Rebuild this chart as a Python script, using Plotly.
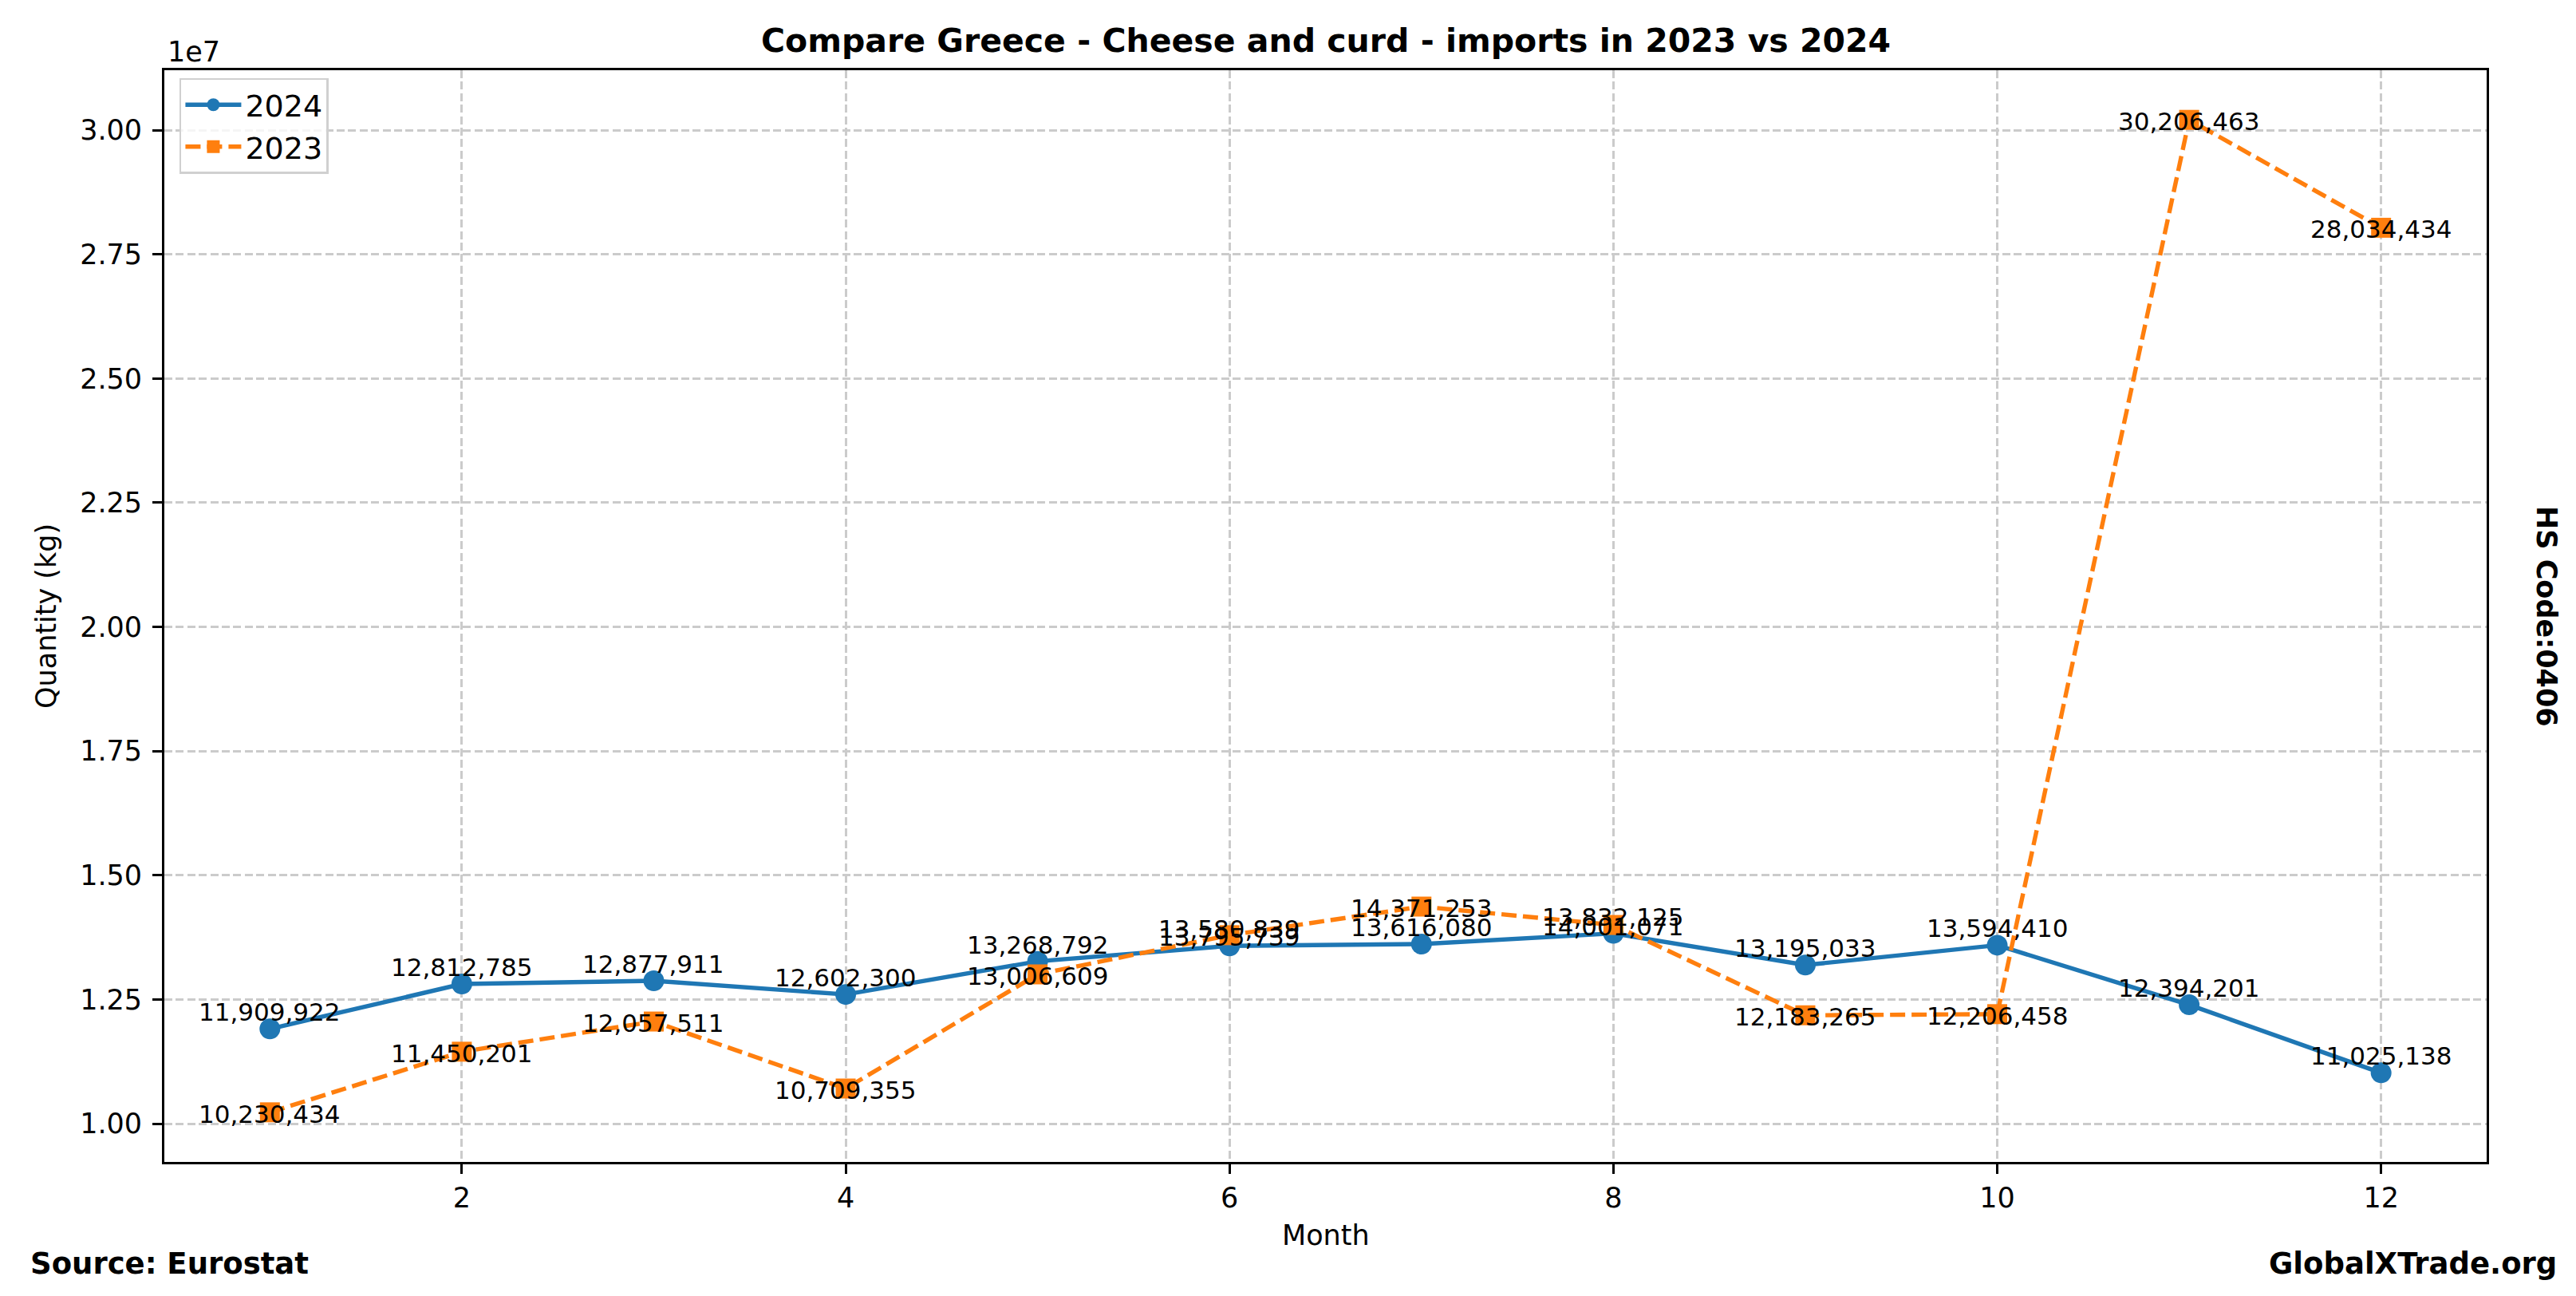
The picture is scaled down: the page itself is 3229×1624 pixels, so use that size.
import plotly.graph_objects as go

months = [1, 2, 3, 4, 5, 6, 7, 8, 9, 10, 11, 12]
values_2024 = [11909922, 12812785, 12877911, 12602300, 13268792, 13580839,
               13616080, 13832125, 13195033, 13594410, 12394201, 11025138]
values_2023 = [10230434, 11450201, 12057511, 10709355, 13006609, 13795739,
               14371253, 14001071, 12183265, 12206458, 30206463, 28034434]
y_tick_vals = [1.00e7, 1.25e7, 1.50e7, 1.75e7, 2.00e7, 2.25e7, 2.50e7, 2.75e7, 3.00e7]
y_tick_text = ["1.00", "1.25", "1.50", "1.75", "2.00", "2.25", "2.50", "2.75", "3.00"]
x_tick_vals = [2, 4, 6, 8, 10, 12]

BLUE = "#1f77b4"
ORANGE = "#ff7f0e"
FONT = "DejaVu Sans"

W, H = 3229, 1624
L, R, T, B = 198, 3229 - 3109, 80, 1624 - 1448

fig = go.Figure()
fig.add_trace(go.Scatter(
    x=months, y=values_2024, name="2024", mode="lines+markers",
    line=dict(color=BLUE, width=5.4),
    marker=dict(symbol="circle", size=26, color=BLUE),
))
fig.add_trace(go.Scatter(
    x=months, y=values_2023, name="2023", mode="lines+markers",
    line=dict(color=ORANGE, width=5.4, dash="19px,8px"),
    marker=dict(symbol="square", size=25, color=ORANGE),
))

ann = []
for m, v in zip(months, values_2024):
    ann.append(dict(x=m, y=v, xref="x", yref="y", text=f"{v:,}", showarrow=False,
                    xanchor="center", yanchor="middle", yshift=21,
                    font=dict(family=FONT, size=31, color="black")))
for m, v in zip(months, values_2023):
    ann.append(dict(x=m, y=v, xref="x", yref="y", text=f"{v:,}", showarrow=False,
                    xanchor="center", yanchor="middle", yshift=-2,
                    font=dict(family=FONT, size=31, color="black")))

ann += [
    dict(x=0.5, y=1, xref="paper", yref="paper", yshift=37, xanchor="center", yanchor="middle",
         text="<b>Compare Greece - Cheese and curd - imports in 2023 vs 2024</b>", showarrow=False,
         font=dict(family=FONT, size=41, color="black")),
    dict(x=0.5, y=0, xref="paper", yref="paper", yshift=-92, xanchor="center", yanchor="middle",
         text="Month", showarrow=False, font=dict(family=FONT, size=35, color="black")),
    dict(x=0, y=0.5, xref="paper", yref="paper", xshift=-148, xanchor="center", yanchor="middle",
         text="Quantity (kg)", textangle=-90, showarrow=False,
         font=dict(family=FONT, size=35, color="black")),
    dict(x=0, y=1, xref="paper", yref="paper", xshift=2, yshift=23, xanchor="left", yanchor="middle",
         text="1e7", showarrow=False, font=dict(family=FONT, size=35, color="black")),
    dict(x=0, y=0, xref="paper", yref="paper", xshift=-170, yshift=-127, xanchor="left", yanchor="middle",
         text="<b>Source: Eurostat</b>", showarrow=False, font=dict(family=FONT, size=37, color="black")),
    dict(x=1, y=0, xref="paper", yref="paper", xshift=90, yshift=-127, xanchor="right", yanchor="middle",
         text="<b>GlobalXTrade.org</b>", showarrow=False, font=dict(family=FONT, size=37, color="black")),
    dict(x=1, y=0.5, xref="paper", yref="paper", xshift=75, xanchor="center", yanchor="middle",
         text="<b>HS Code:0406</b>", textangle=90, showarrow=False,
         font=dict(family=FONT, size=35, color="black")),
]

all_vals = values_2024 + values_2023
ymin, ymax = min(all_vals), max(all_vals)
pad = 0.05 * (ymax - ymin)
xpad = 0.05 * (max(months) - min(months))

axis_common = dict(
    showline=True, linecolor="black", linewidth=2.8, mirror=True,
    ticks="outside", ticklen=12, tickwidth=2.8, tickcolor="black",
    showgrid=True, gridcolor="#cbcbcb", gridwidth=2.6, griddash="10px,4.4px",
    zeroline=False, tickfont=dict(family=FONT, size=35, color="black"),
)

fig.update_layout(
    width=W, height=H,
    margin=dict(l=L, r=R, t=T, b=B, autoexpand=False),
    paper_bgcolor="white", plot_bgcolor="white",
    font=dict(family=FONT, color="black"),
    xaxis=dict(range=[min(months) - xpad, max(months) + xpad], tickvals=x_tick_vals, **axis_common),
    yaxis=dict(range=[ymin - pad, ymax + pad], tickvals=y_tick_vals, ticktext=y_tick_text,
               ticklabelstandoff=6, **axis_common),
    legend=dict(x=0.0065, y=0.993, xanchor="left", yanchor="top",
                bgcolor="rgba(255,255,255,0.8)", bordercolor="#d0d0d0", borderwidth=2.5,
                font=dict(family=FONT, size=38, color="black"), itemwidth=70,
                tracegroupgap=6),
    annotations=ann,
    showlegend=True,
)

fig.write_html("out.html")
